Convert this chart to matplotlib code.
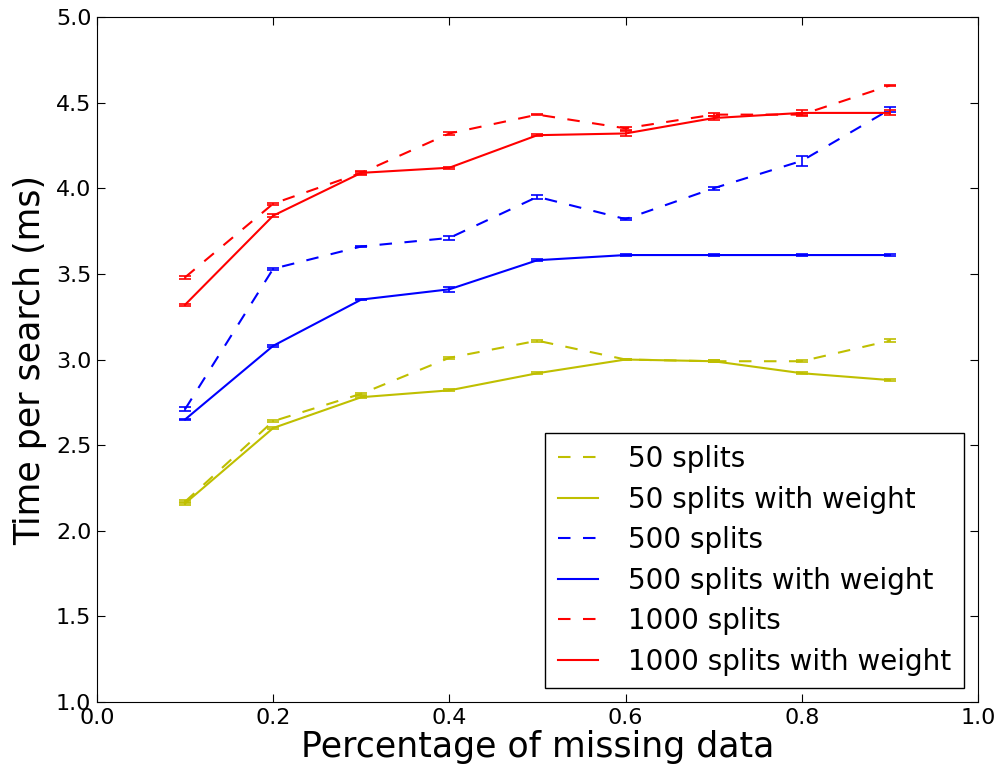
import matplotlib
matplotlib.use('Agg')
import matplotlib.pyplot as plt
import numpy as np

# Fraction of missing data
missing = [0.1, 0.2, 0.3, 0.4, 0.5, 0.6, 0.7, 0.8, 0.9]

# Mean time per search (ms)
s50 = [2.17, 2.64, 2.80, 3.01, 3.11, 3.00, 2.99, 2.99, 3.11]
s50_w = [2.16, 2.60, 2.78, 2.82, 2.92, 3.00, 2.99, 2.92, 2.88]
s500 = [2.71, 3.53, 3.66, 3.71, 3.95, 3.82, 4.00, 4.16, 4.46]
s500_w = [2.65, 3.08, 3.35, 3.41, 3.58, 3.61, 3.61, 3.61, 3.61]
s1000 = [3.48, 3.91, 4.09, 4.32, 4.43, 4.35, 4.43, 4.43, 4.60]
s1000_w = [3.32, 3.84, 4.09, 4.12, 4.31, 4.32, 4.41, 4.44, 4.44]

# Error bar half-widths
e50 = [0.010, 0.005, 0.005, 0.005, 0.005, 0.005, 0.005, 0.005, 0.010]
e50_w = [0.010, 0.005, 0.005, 0.005, 0.005, 0.005, 0.005, 0.005, 0.005]
e500 = [0.010, 0.005, 0.005, 0.010, 0.010, 0.005, 0.010, 0.030, 0.015]
e500_w = [0.005, 0.005, 0.005, 0.015, 0.005, 0.005, 0.005, 0.005, 0.005]
e1000 = [0.010, 0.005, 0.005, 0.010, 0.005, 0.010, 0.010, 0.010, 0.005]
e1000_w = [0.005, 0.010, 0.010, 0.005, 0.005, 0.015, 0.010, 0.015, 0.015]

yellow = '#bfbf00'

fig = plt.figure(figsize=(10.03, 7.73), dpi=100)
ax = fig.add_axes([0.0967, 0.0918, 0.8783, 0.8862])

series = [
    (s50, e50, yellow, True, '50 splits'),
    (s50_w, e50_w, yellow, False, '50 splits with weight'),
    (s500, e500, 'blue', True, '500 splits'),
    (s500_w, e500_w, 'blue', False, '500 splits with weight'),
    (s1000, e1000, 'red', True, '1000 splits'),
    (s1000_w, e1000_w, 'red', False, '1000 splits with weight'),
]

for vals, errs, color, dashed, label in series:
    cont = ax.errorbar(missing, vals, yerr=errs, color=color, lw=1.5,
                       capsize=4, elinewidth=1.2, capthick=1.2, label=label)
    if dashed:
        cont[0].set_dashes((6, 6))

ax.set_xlim(0.0, 1.0)
ax.set_ylim(1.0, 5.0)
ax.set_xticks(np.arange(0.0, 1.01, 0.2))
ax.set_yticks(np.arange(1.0, 5.01, 0.5))
ax.tick_params(direction='in', labelsize=16, length=6, top=True, right=True, pad=4)
ax.set_xlabel('Percentage of missing data', fontsize=25, labelpad=2)
ax.set_ylabel('Time per search (ms)', fontsize=25, labelpad=6)

handles, labels = ax.get_legend_handles_labels()
handles = [h[0] for h in handles]
leg = ax.legend(handles, labels, loc='lower right', fontsize=20, fancybox=False,
                framealpha=1, edgecolor='black', handlelength=1.45,
                handletextpad=1.1, borderpad=0.45, labelspacing=0.45)
leg.get_frame().set_linewidth(1.0)

fig.savefig('out.png', dpi=100)
